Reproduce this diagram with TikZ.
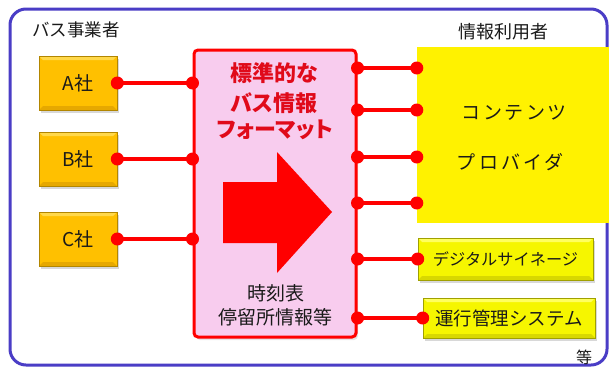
\documentclass[tikz,border=0pt]{standalone}
\usepackage{fontspec}
\setmainfont{Noto Sans CJK JP}
\newfontfamily\jpp[RawFeature=+palt]{Noto Sans CJK JP}
\usetikzlibrary{shadows}
\definecolor{frameblue}{HTML}{4A3DC6}
\definecolor{gold}{HTML}{FFC000}
\definecolor{goldlight}{HTML}{FFD84A}
\definecolor{golddark}{HTML}{E6A800}
\definecolor{pinkfill}{HTML}{F8CCEE}
\definecolor{linered}{HTML}{FF0000}
\definecolor{titlered}{HTML}{E00A1A}
\definecolor{sign}{HTML}{F6F600}
\definecolor{signlight}{HTML}{FFFF60}
\definecolor{signdark}{HTML}{D8D800}
\definecolor{txt}{HTML}{1A1A1A}
\begin{document}
\begin{tikzpicture}[x=1pt,y=-1pt,
  conn/.style={draw=linered, line width=3.2},
  shline/.style={draw=black!18, line width=3.6},
  dot/.style={circle, fill=linered, inner sep=0pt, minimum size=13},
  bevel/.style 2 args={path picture={
      \fill[#1] (path picture bounding box.north west) -- (path picture bounding box.north east)
        -- ([xshift=-4pt,yshift=-4pt]path picture bounding box.north east)
        -- ([xshift=4pt,yshift=-4pt]path picture bounding box.north west) -- cycle;
      \fill[#2] (path picture bounding box.south west) -- (path picture bounding box.south east)
        -- ([xshift=-4pt,yshift=4pt]path picture bounding box.south east)
        -- ([xshift=4pt,yshift=4pt]path picture bounding box.south west) -- cycle;}},
  company/.style={fill=gold, draw=gold!70!black, line width=0.6,
    minimum width=78, minimum height=54, text=txt,
    font=\fontsize{19}{22}\selectfont, bevel={goldlight}{golddark},
    drop shadow={shadow xshift=2pt, shadow yshift=-3pt, opacity=0.3}},
  signbox/.style={fill=sign, draw=sign!65!black, line width=0.6,
    minimum height=42, text=txt, inner sep=0pt, bevel={signlight}{signdark},
    drop shadow={shadow xshift=2pt, shadow yshift=-3pt, opacity=0.3}},
  label/.style={text=txt, inner sep=0pt},
  ptitle/.style={text=titlered, inner sep=0pt, font=\jpp\fontsize{22}{26}\selectfont\bfseries}
]
\useasboundingbox (0,0) rectangle (609,367);
\fill[white] (0,0) rectangle (609,367);
% outer frame
\draw[frameblue, line width=3, rounded corners=16] (10,9) rectangle (607,365);
\node[label, font=\fontsize{17.5}{20}\selectfont] (lbus) at (76,30) {バス事業者};
\node[label, font=\fontsize{18}{20}\selectfont] (luser) at (503,32) {情報利用者};

% companies
\node[company] (A) at (78,83) {A社};
\node[company] (B) at (78,159) {B社};
\node[company] (C) at (78,239) {C社};

% central box
\node[draw=linered, line width=3, fill=pinkfill, rounded corners=4,
  minimum width=162, minimum height=287,
  drop shadow={shadow xshift=2pt, shadow yshift=-3pt, opacity=0.2}] (P) at (275,193.5) {};
\node[ptitle] (t1) at (274,73) {標準的な};
\node[ptitle] (t2) at (274,103) {バス情報};
\node[ptitle] (t3) at (275,130) {フォーマット};
\fill[linered] (223,182) -- (277,182) -- (277,152) -- (332,212) -- (277,273) -- (277,243) -- (223,243) -- cycle;
\node[label, font=\fontsize{19}{22}\selectfont] (t4) at (276,293) {時刻表};
\node[label, font=\fontsize{19}{22}\selectfont] (t5) at (275,317) {停留所情報等};

% users
\node[fill=yellow, minimum width=193, minimum height=176, inner sep=0pt] (Y) at (513.5,135) {};
\node[label, font=\jpp\fontsize{19}{22}\selectfont\addfontfeature{LetterSpace=22}] (cy1) at (514,113) {コンテンツ};
\node[label, font=\jpp\fontsize{19}{22}\selectfont\addfontfeature{LetterSpace=22}] (cy2) at (510,162) {プロバイダ};
\node[signbox, minimum width=175, font=\fontsize{16.2}{19}\selectfont] (DS) at (505.5,259) {デジタルサイネージ};
\node[signbox, minimum width=172, minimum height=40, font=\fontsize{18.5}{21}\selectfont] (UN) at (509,318) {運行管理システム};
\node[label, font=\fontsize{16}{18}\selectfont] (etc) at (584,357) {等};

% dot anchors
\coordinate (a1) at (A.east);
\coordinate (a2) at (P.west |- A.east);
\coordinate (b1) at (B.east);
\coordinate (b2) at (P.west |- B.east);
\coordinate (c1) at (C.east);
\coordinate (c2) at (P.west |- C.east);
\foreach \i/\yy in {1/68,2/110,3/157,4/203} {
  \coordinate (r\i) at (P.east |- 0,\yy);
  \coordinate (s\i) at (Y.west |- 0,\yy);
}
\coordinate (r5) at (P.east |- DS.west);
\coordinate (s5) at (DS.west);
\coordinate (r6) at (P.east |- UN.west);
\coordinate (s6) at (UN.west);

% connector shadows
\begin{scope}[shift={(1.5,2.5)}]
\foreach \p/\q in {a1/a2,b1/b2,c1/c2,r1/s1,r2/s2,r3/s3,r4/s4,r5/s5,r6/s6} {
  \draw[shline] (\p) -- (\q);
}
\end{scope}
% connectors
\foreach \p/\q in {a1/a2,b1/b2,c1/c2,r1/s1,r2/s2,r3/s3,r4/s4,r5/s5,r6/s6} {
  \draw[conn] (\p) -- (\q);
}
\foreach \n in {a1,a2,b1,b2,c1,c2,r1,s1,r2,s2,r3,s3,r4,s4,r5,s5,r6,s6} {
  \node[dot] at (\n) {};
}
\end{tikzpicture}
\end{document}
